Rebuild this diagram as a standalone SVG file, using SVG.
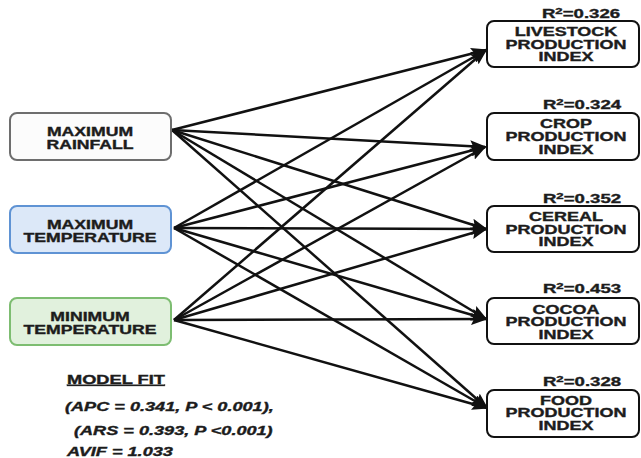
<svg xmlns="http://www.w3.org/2000/svg" width="641" height="458" viewBox="0 0 641 458">
<style>
  text { font-family: "Liberation Sans", Arial, sans-serif; font-weight: bold; fill: #1c1c1c; stroke: #1c1c1c; stroke-width: 0.35; }
  .t { font-size: 12px; text-anchor: middle; }
  .r2 { font-size: 12px; text-anchor: middle; }
  .m { font-size: 12px; font-style: italic; }
  .out { fill: #ffffff; stroke: #111111; stroke-width: 2; }
  .conn line { stroke: #111111; stroke-width: 2.5; marker-end: url(#ah); }
</style>
<defs>
  <marker id="ah" markerUnits="userSpaceOnUse" markerWidth="17" markerHeight="12" refX="15" refY="6" orient="auto">
    <path d="M0,0 L17,6 L0,12 L3,6 z" fill="#111111"/>
  </marker>
</defs>
<rect width="641" height="458" fill="#ffffff"/>

<g id="connectors" class="conn">
  <line x1="172" y1="130" x2="486" y2="50"/>
  <line x1="172" y1="130" x2="485" y2="147"/>
  <line x1="172" y1="130" x2="486" y2="229"/>
  <line x1="172" y1="130" x2="486" y2="319"/>
  <line x1="172" y1="130" x2="487" y2="408"/>
  <line x1="174" y1="228" x2="486" y2="50"/>
  <line x1="174" y1="228" x2="485" y2="147"/>
  <line x1="174" y1="228" x2="486" y2="229"/>
  <line x1="174" y1="228" x2="486" y2="319"/>
  <line x1="174" y1="228" x2="487" y2="408"/>
  <line x1="174" y1="320" x2="486" y2="50"/>
  <line x1="174" y1="320" x2="485" y2="147"/>
  <line x1="174" y1="320" x2="486" y2="229"/>
  <line x1="174" y1="320" x2="486" y2="319"/>
  <line x1="174" y1="320" x2="487" y2="408"/>
</g>

<g id="max-rainfall">
  <rect x="10" y="113" width="161" height="47" rx="7" fill="#fcfcfc" stroke="#6e6e6e" stroke-width="2"/>
  <text class="t" transform="translate(90 136) scale(1.47 1)">MAXIMUM</text>
  <text class="t" transform="translate(90 148.5) scale(1.47 1)">RAINFALL</text>
</g>
<g id="max-temperature">
  <rect x="10" y="206" width="161" height="47" rx="7" fill="#dce8f8" stroke="#5f93d4" stroke-width="2"/>
  <text class="t" transform="translate(90 229) scale(1.47 1)">MAXIMUM</text>
  <text class="t" transform="translate(90 241.5) scale(1.47 1)">TEMPERATURE</text>
</g>
<g id="min-temperature">
  <rect x="10" y="298" width="161" height="47" rx="7" fill="#e1f1dd" stroke="#7dbd71" stroke-width="2"/>
  <text class="t" transform="translate(90 321) scale(1.47 1)">MINIMUM</text>
  <text class="t" transform="translate(90 333.5) scale(1.47 1)">TEMPERATURE</text>
</g>

<g id="livestock">
  <text class="r2" transform="translate(581 18) scale(1.55 1)">R<tspan font-size="8.5" dy="-4.5">2</tspan><tspan dy="4.5">=0.326</tspan></text>
  <rect class="out" x="487" y="21" width="152" height="46" rx="7"/>
  <text class="t" transform="translate(566 36) scale(1.5 1)">LIVESTOCK</text>
  <text class="t" transform="translate(566 48.5) scale(1.5 1)">PRODUCTION</text>
  <text class="t" transform="translate(566 61) scale(1.5 1)">INDEX</text>
</g>
<g id="crop">
  <text class="r2" transform="translate(582 109) scale(1.55 1)">R<tspan font-size="8.5" dy="-4.5">2</tspan><tspan dy="4.5">=0.324</tspan></text>
  <rect class="out" x="487" y="113" width="152" height="47" rx="7"/>
  <text class="t" transform="translate(566 128) scale(1.5 1)">CROP</text>
  <text class="t" transform="translate(566 141) scale(1.5 1)">PRODUCTION</text>
  <text class="t" transform="translate(566 153.5) scale(1.5 1)">INDEX</text>
</g>
<g id="cereal">
  <text class="r2" transform="translate(582 203) scale(1.55 1)">R<tspan font-size="8.5" dy="-4.5">2</tspan><tspan dy="4.5">=0.352</tspan></text>
  <rect class="out" x="487" y="206" width="152" height="46" rx="7"/>
  <text class="t" transform="translate(566 221) scale(1.5 1)">CEREAL</text>
  <text class="t" transform="translate(566 233.5) scale(1.5 1)">PRODUCTION</text>
  <text class="t" transform="translate(566 246) scale(1.5 1)">INDEX</text>
</g>
<g id="cocoa">
  <text class="r2" transform="translate(582 293) scale(1.55 1)">R<tspan font-size="8.5" dy="-4.5">2</tspan><tspan dy="4.5">=0.453</tspan></text>
  <rect class="out" x="487" y="298" width="152" height="46" rx="7"/>
  <text class="t" transform="translate(566 313.5) scale(1.5 1)">COCOA</text>
  <text class="t" transform="translate(566 326) scale(1.5 1)">PRODUCTION</text>
  <text class="t" transform="translate(566 338.5) scale(1.5 1)">INDEX</text>
</g>
<g id="food">
  <text class="r2" transform="translate(582 386) scale(1.55 1)">R<tspan font-size="8.5" dy="-4.5">2</tspan><tspan dy="4.5">=0.328</tspan></text>
  <rect class="out" x="487" y="390" width="152" height="47" rx="7"/>
  <text class="t" transform="translate(566 404.5) scale(1.5 1)">FOOD</text>
  <text class="t" transform="translate(566 417) scale(1.5 1)">PRODUCTION</text>
  <text class="t" transform="translate(566 430) scale(1.5 1)">INDEX</text>
</g>

<g id="model-fit">
  <text transform="translate(67 384) scale(1.52 1)" font-size="12" text-decoration="underline">MODEL FIT</text>
  <text class="m" transform="translate(65 411) scale(1.51 1)">(APC = 0.341, P &lt; 0.001),</text>
  <text class="m" transform="translate(74 435) scale(1.51 1)">(ARS = 0.393, P &lt;0.001)</text>
  <text class="m" transform="translate(67 456) scale(1.51 1)">AVIF = 1.033</text>
</g>
</svg>
